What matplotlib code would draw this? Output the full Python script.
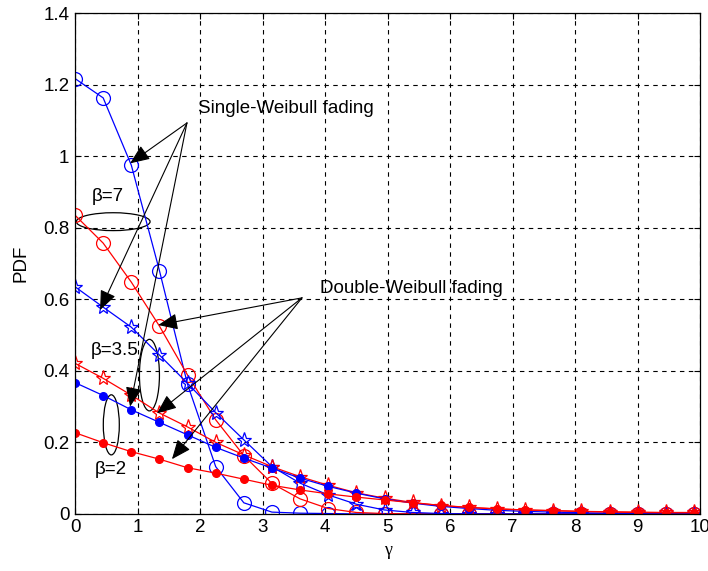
import numpy as np
import matplotlib
matplotlib.use('Agg')
import matplotlib.pyplot as plt
from matplotlib.patches import Ellipse

plt.rcParams['font.family'] = ['Liberation Sans', 'DejaVu Sans']

# sample points (gamma)
gamma = [0.0, 0.45, 0.9, 1.35, 1.8, 2.25, 2.7, 3.15, 3.6, 4.05, 4.5, 4.95,
         5.4, 5.85, 6.3, 6.75, 7.2, 7.65, 8.1, 8.55, 9.0, 9.45, 9.9]

# Single-Weibull fading (blue)
single_b7 = [1.217, 1.163, 0.975, 0.68, 0.362, 0.132, 0.031, 0.005, 0.002, 0.001, 0.0, 0.0,
             0.0, 0.0, 0.0, 0.0, 0.0, 0.0, 0.0, 0.0, 0.0, 0.0, 0.0]
single_b35 = [0.635, 0.578, 0.522, 0.444, 0.365, 0.283, 0.207, 0.132, 0.086, 0.053, 0.027, 0.011,
              0.004, 0.001, 0.0, 0.0, 0.0, 0.0, 0.0, 0.0, 0.0, 0.0, 0.0]
single_b2 = [0.367, 0.331, 0.291, 0.256, 0.221, 0.186, 0.156, 0.128, 0.1, 0.077, 0.058, 0.042,
             0.03, 0.021, 0.015, 0.01, 0.007, 0.005, 0.003, 0.002, 0.002, 0.001, 0.001]

# Double-Weibull fading (red)
double_b7 = [0.835, 0.757, 0.648, 0.525, 0.388, 0.263, 0.163, 0.085, 0.042, 0.015, 0.004, 0.001,
             0.0, 0.0, 0.0, 0.0, 0.0, 0.0, 0.0, 0.0, 0.0, 0.0, 0.0]
double_b35 = [0.421, 0.379, 0.332, 0.282, 0.243, 0.2, 0.165, 0.132, 0.104, 0.08, 0.059, 0.044,
              0.032, 0.023, 0.018, 0.014, 0.011, 0.009, 0.007, 0.006, 0.005, 0.004, 0.004]
double_b2 = [0.227, 0.199, 0.174, 0.153, 0.129, 0.114, 0.097, 0.08, 0.067, 0.056, 0.047, 0.039,
             0.031, 0.024, 0.018, 0.014, 0.011, 0.009, 0.007, 0.005, 0.004, 0.003, 0.003]

fig = plt.figure(figsize=(7.08, 5.71), dpi=100)
ax = fig.add_axes([0.106, 0.1, 0.883, 0.877])

lw = 0.9
ax.plot(gamma, single_b7, '-o', color='blue', lw=lw, ms=10, mfc='none', mew=0.9)
ax.plot(gamma, double_b7, '-o', color='red', lw=lw, ms=10, mfc='none', mew=0.9)
ax.plot(gamma, single_b35, '-*', color='blue', lw=lw, ms=11, mfc='none', mew=0.9)
ax.plot(gamma, double_b35, '-*', color='red', lw=lw, ms=11, mfc='none', mew=0.9)
ax.plot(gamma, single_b2, '-o', color='blue', lw=lw, ms=5.5)
ax.plot(gamma, double_b2, '-o', color='red', lw=lw, ms=5.5)

ax.set_xlim(0, 10)
ax.set_ylim(0, 1.4)
ax.set_xticks(range(0, 11))
ax.set_yticks([0, 0.2, 0.4, 0.6, 0.8, 1, 1.2, 1.4])
ax.set_yticklabels(['0', '0.2', '0.4', '0.6', '0.8', '1', '1.2', '1.4'])
ax.tick_params(direction='in', top=True, right=True, labelsize=13.5, length=4, width=0.8, pad=4)
ax.grid(True, color='black', linestyle=(0, (4, 4)), linewidth=0.8)
for s in ax.spines.values():
    s.set_linewidth(0.9)

ax.set_xlabel('γ', family='Liberation Serif', fontsize=13, labelpad=4)
ax.set_ylabel('PDF', fontsize=13.5, labelpad=10)

# annotations
arrow = dict(arrowstyle='-|>,head_length=1.2,head_width=0.5', color='black', lw=0.8,
             shrinkA=0, shrinkB=0)
ax.text(1.97, 1.133, 'Single-Weibull fading', fontsize=13.5, va='center', ha='left')
for tx, ty in [(0.88, 0.98), (0.4, 0.57), (0.88, 0.3)]:
    ax.annotate('', xy=(tx, ty), xytext=(1.79, 1.093), arrowprops=arrow)

ax.text(3.92, 0.63, 'Double-Weibull fading', fontsize=13.5, va='center', ha='left')
for tx, ty in [(1.33, 0.528), (1.31, 0.281), (1.55, 0.153)]:
    ax.annotate('', xy=(tx, ty), xytext=(3.63, 0.604), arrowprops=arrow)

# ellipses and beta labels
for cx, cy, w, h in [(0.61, 0.817, 1.18, 0.05), (1.19, 0.388, 0.32, 0.2), (0.58, 0.249, 0.256, 0.168)]:
    ax.add_patch(Ellipse((cx, cy), w, h, fill=False, edgecolor='black', lw=0.9))

ax.text(0.53, 0.886, 'β=7', fontsize=13.5, ha='center', va='center')
ax.text(0.64, 0.458, 'β=3.5', fontsize=13.5, ha='center', va='center')
ax.text(0.58, 0.123, 'β=2', fontsize=13.5, ha='center', va='center')

fig.savefig('out.png', dpi=100)
